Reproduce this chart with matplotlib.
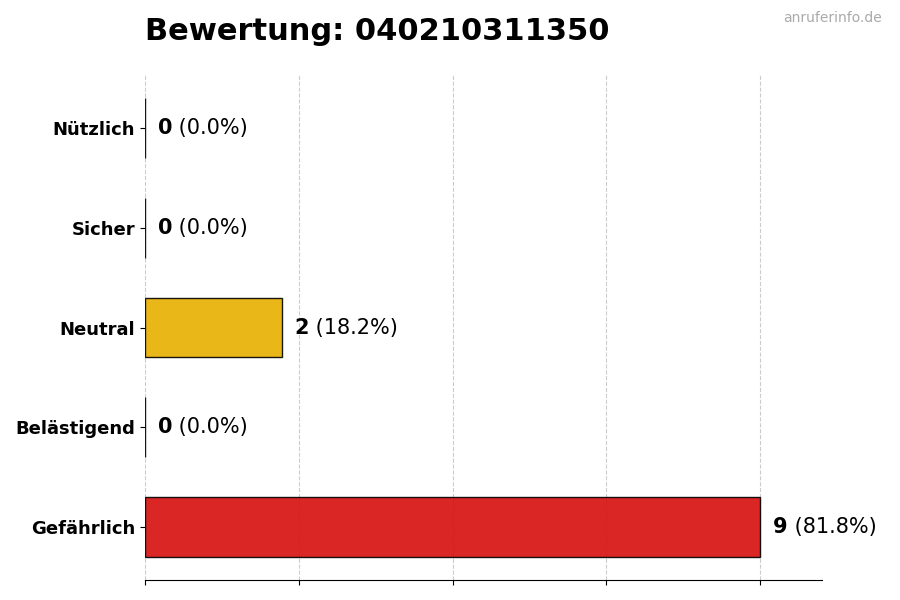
import matplotlib
matplotlib.use("Agg")
import matplotlib.pyplot as plt
import numpy as np

categories = ["Gefährlich", "Belästigend", "Neutral", "Sicher", "Nützlich"]
values = [9, 0, 2, 0, 0]
colors = ["#D80E0E", "#F25F00", "#E8B000", "#7CC400", "#1DBE55"]
title = "Bewertung: 040210311350"
watermark = "anruferinfo.de"

total = sum(values)
fig = plt.figure(figsize=(9, 6), dpi=100)
ax = fig.add_axes([0.161, 0.0333, 0.752, 0.8417])

y = np.arange(len(categories))
ax.barh(y, values, height=0.6, color=colors, edgecolor="black", linewidth=1, alpha=0.9, zorder=3)
ax.set_yticks(y)
ax.set_yticklabels(categories, fontsize=13, fontweight="bold")
vmax = max(values)
ax.set_xlim(0, vmax * 1.1)
ax.set_xticks(np.linspace(0, vmax, 5))
ax.set_xticklabels([])
ax.grid(axis="x", linestyle="--", color="#cccccc", linewidth=0.8, zorder=0)
for s in ["top", "right", "left"]:
    ax.spines[s].set_visible(False)

for yi, v in zip(y, values):
    pct = v / total * 100
    t = ax.annotate(f"{v}", (v, yi), xytext=(13, 0), textcoords="offset pixels",
                    va="center", ha="left", fontsize=15, fontweight="bold")
    ax.annotate(f" ({pct:.1f}%)", xy=(1, 0.5), xycoords=t, va="center", ha="left", fontsize=15)

fig.text(0.161, 0.948, title, fontsize=22, fontweight="bold", ha="left", va="center")
fig.text(0.98, 0.97, watermark, fontsize=10, color="#aaaaaa", ha="right", va="center")
fig.savefig("out.png", dpi=100)
